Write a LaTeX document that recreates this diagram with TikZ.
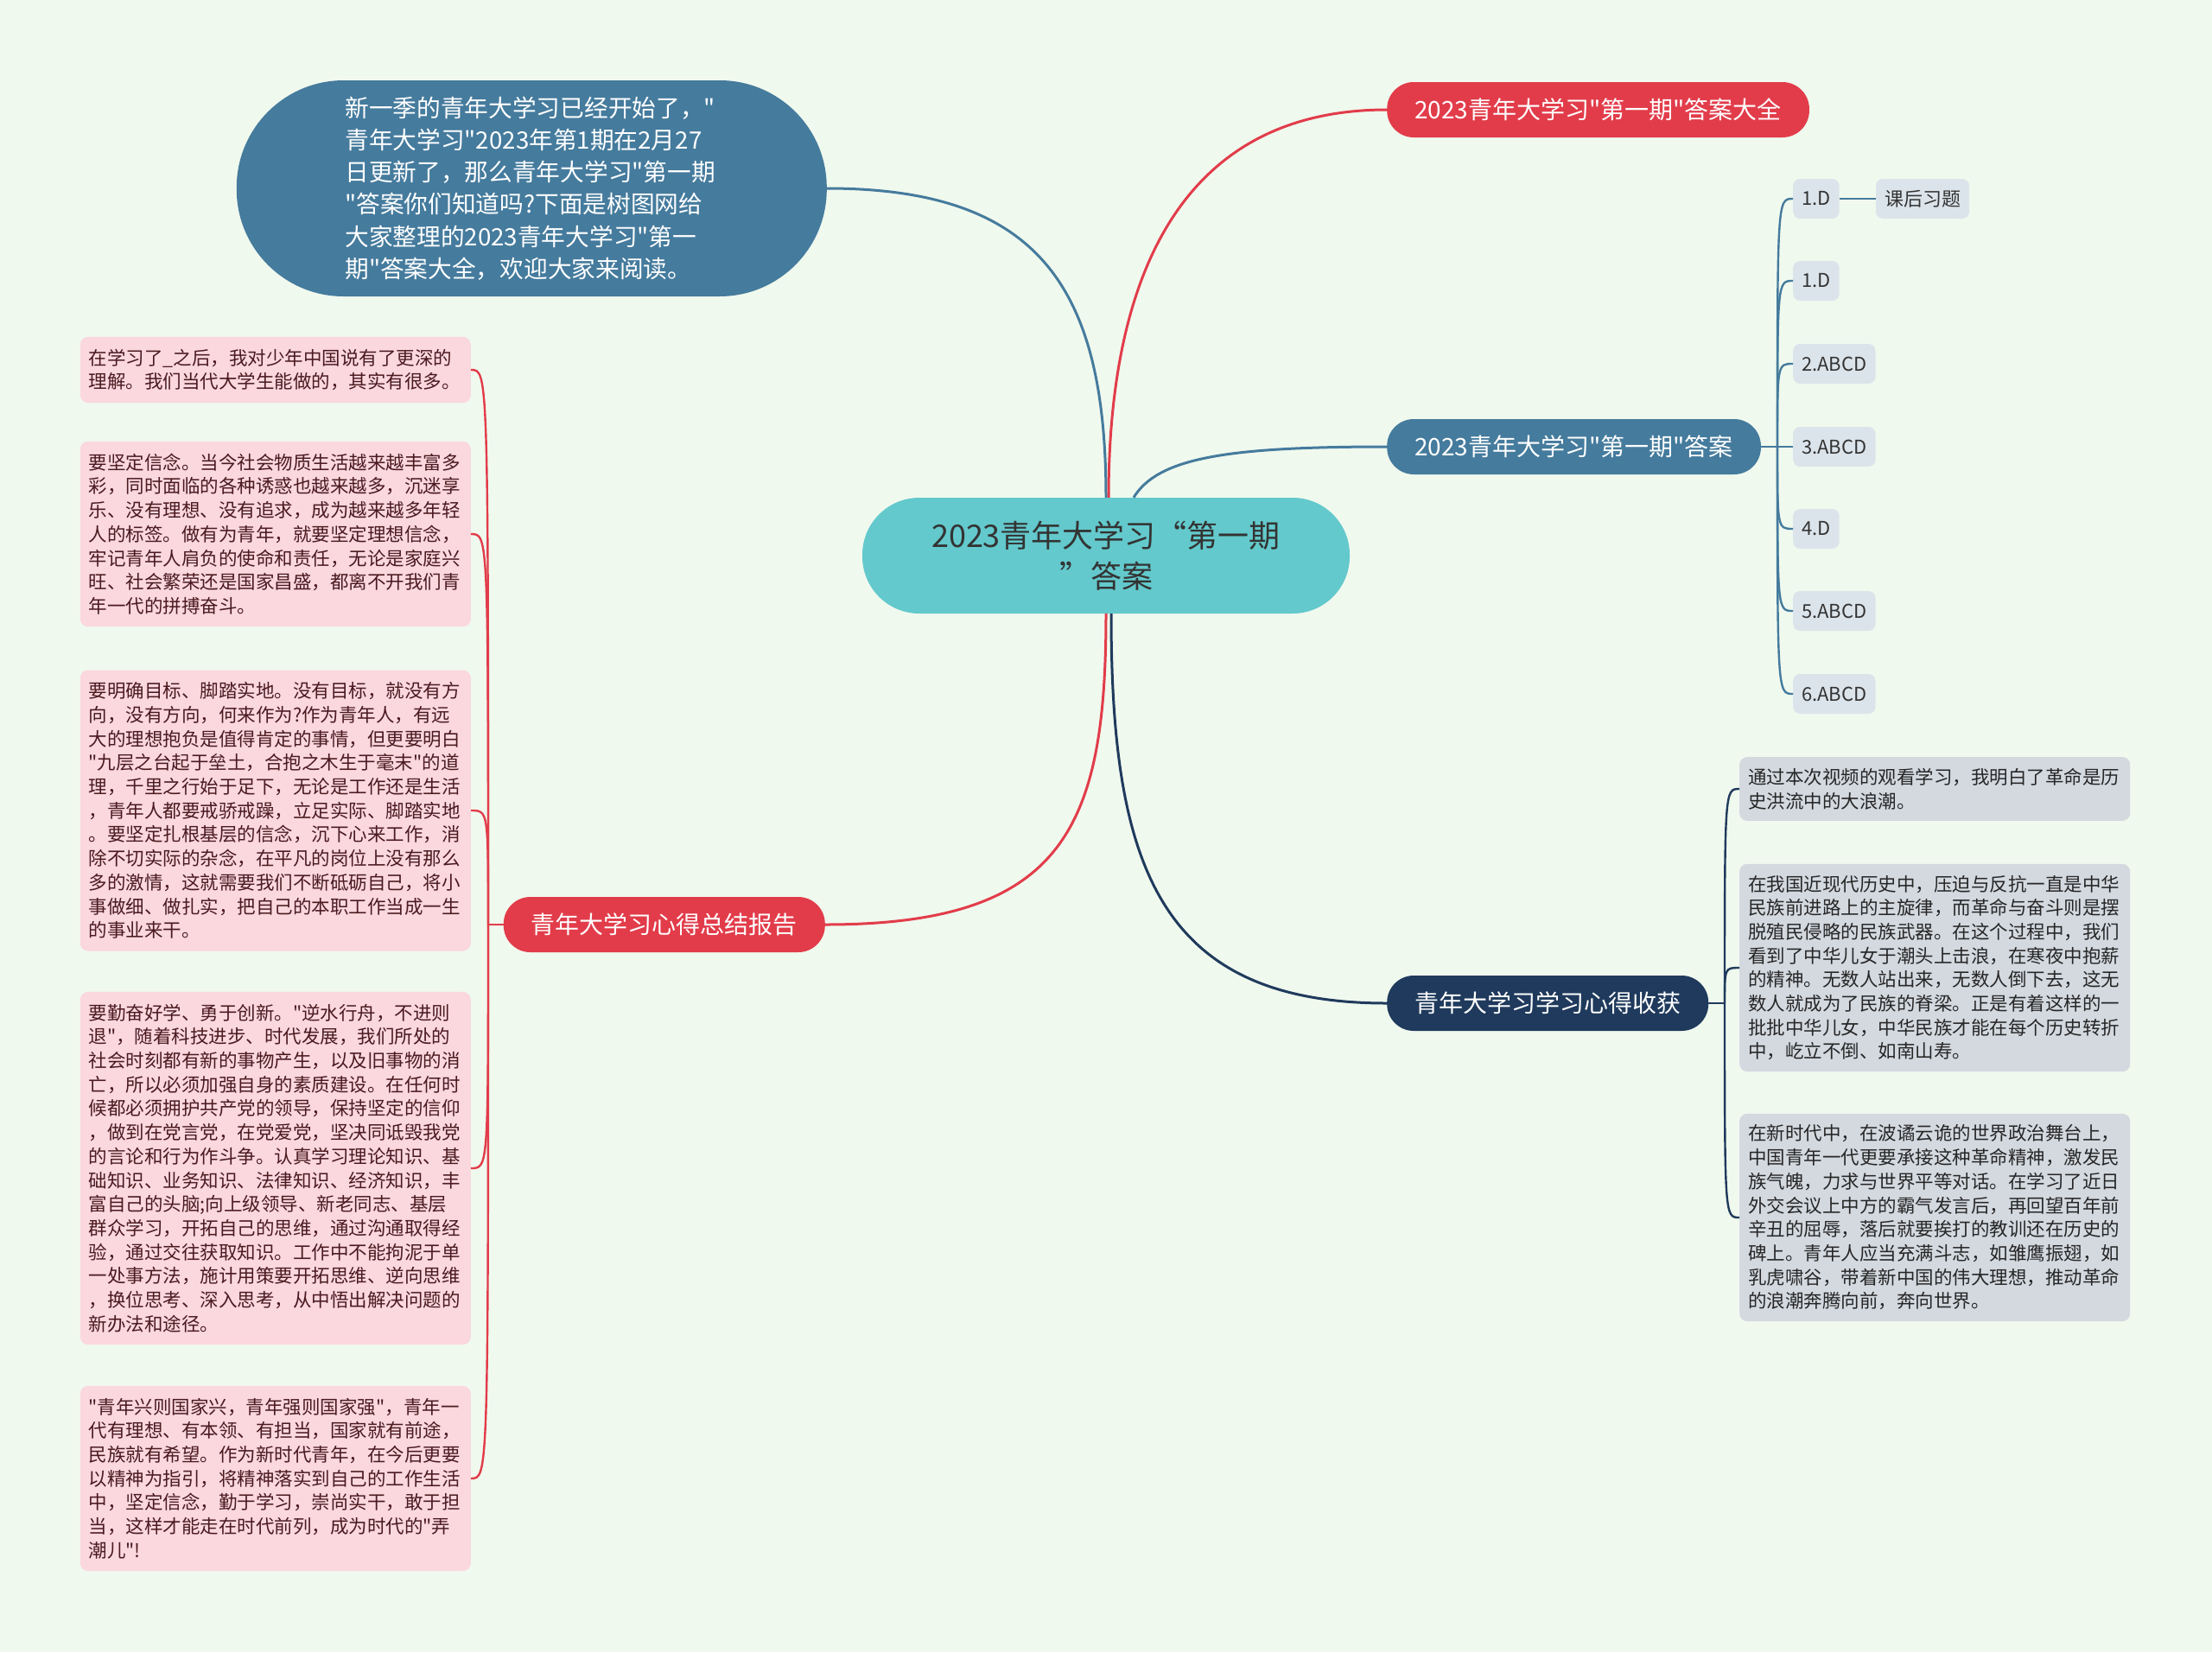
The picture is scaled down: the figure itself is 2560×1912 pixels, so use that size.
\documentclass[tikz,border=0pt]{standalone}
\usepackage{fontspec}
\newfontfamily\mapfont{Noto Sans CJK SC}
\usetikzlibrary{positioning}

\definecolor{bgpaper}{HTML}{F0F9EE}
\definecolor{rootteal}{HTML}{63C9CC}
\definecolor{steelblue}{HTML}{457B9D}
\definecolor{mindred}{HTML}{E23C4A}
\definecolor{navyblue}{HTML}{1F3A5C}
\definecolor{ansfill}{HTML}{DCE4EB}
\definecolor{pinkfill}{HTML}{FAD8DD}
\definecolor{pinktext}{HTML}{4A1A20}
\definecolor{greyfill}{HTML}{D4D9E0}

\newcommand{\setfs}[2]{\mapfont\fontsize{#1pt}{#2pt}\selectfont}

\begin{document}
\begin{tikzpicture}[x=1pt, y=-1pt,
  branch/.style={rounded corners=31pt, minimum height=64pt, inner xsep=32pt, text=white, font=\setfs{28}{34}},
  ansbox/.style={fill=ansfill, rounded corners=8pt, minimum height=46pt, inner xsep=10pt, text=black!80, font=\setfs{22}{26}},
  pinknote/.style={fill=pinkfill, rounded corners=9pt, text width=432pt, align=left, inner xsep=10pt, inner ysep=14pt, text=pinktext, font=\setfs{21.5}{27.7}, anchor=east},
  greynote/.style={fill=greyfill, rounded corners=9pt, text width=432pt, align=left, inner xsep=10pt, inner ysep=13pt, text=black!85, font=\setfs{21.5}{27.7}, anchor=west},
  link/.style={line width=3pt},
  twig/.style={line width=2.4pt}]

\fill[bgpaper] (0,0) rectangle (2560,1912);
\useasboundingbox (0,0) rectangle (2560,1912);

% root
\node[fill=rootteal, rounded corners=66pt, minimum width=564pt, minimum height=134pt, align=center, text=black!80, font=\setfs{36}{47}] (ctr) at (1280,643) {2023青年大学习“第一期\\”答案};

% main branches
\node[fill=steelblue, rounded corners=124pt, minimum width=683pt, minimum height=250pt, text width=432pt, align=left, text=white, font=\setfs{27.7}{37.2}, anchor=east] (intro) at (957,218)
  {新一季的青年大学习已经开始了，"\\青年大学习"2023年第1期在2月27\\日更新了，那么青年大学习"第一期\\"答案你们知道吗?下面是树图网给\\大家整理的2023青年大学习"第一\\期"答案大全，欢迎大家来阅读。};
\node[branch, fill=mindred, anchor=west] (full) at (1605,127) {2023青年大学习"第一期"答案大全};
\node[branch, fill=steelblue, anchor=west] (ans) at (1605,517) {2023青年大学习"第一期"答案};
\node[branch, fill=navyblue, anchor=west] (gain) at (1605,1161) {青年大学习学习心得收获};
\node[branch, fill=mindred, anchor=east] (sum) at (955,1070) {青年大学习心得总结报告};

\draw[link, steelblue] (ctr.north) .. controls +(0,-246) and +(243,0) .. (intro.east);
\draw[link, mindred] ([xshift=3pt]ctr.north) .. controls +(0,-276) and +(-225,0) .. (full.west);
\draw[link, steelblue] ([xshift=32pt]ctr.north) .. controls +(28,-46) and +(-185,0) .. (ans.west);
\draw[link, navyblue] ([xshift=6pt]ctr.south) .. controls +(0,290) and +(-265,0) .. (gain.west);
\draw[link, mindred] (ctr.south) .. controls +(0,250) and +(275,0) .. (sum.east);

% answers
\node[ansbox, anchor=west] (a1) at (2075,230) {1.D};
\node[ansbox, right=42pt of a1] (hw) {课后习题};
\node[ansbox, anchor=west] (a2) at (2075,325) {1.D};
\node[ansbox, anchor=west] (a3) at (2075,421) {2.ABCD};
\node[ansbox, anchor=west] (a4) at (2075,517) {3.ABCD};
\node[ansbox, anchor=west] (a5) at (2075,612) {4.D};
\node[ansbox, anchor=west] (a6) at (2075,707) {5.ABCD};
\node[ansbox, anchor=west] (a7) at (2075,803) {6.ABCD};

\path (a4.west) ++(-18,0) coordinate (aj);
\draw[twig, steelblue] (ans.east) -- (aj);
\foreach \n in {a1,a2,a3,a4,a5,a6,a7}
  \draw[twig, steelblue] (aj) .. controls (aj |- \n.west) .. (\n.west);
\draw[twig, steelblue] (a1) -- (hw);

% summary notes
\node[pinknote] (p1) at (545,428) {在学习了\_之后，我对少年中国说有了更深的\\理解。我们当代大学生能做的，其实有很多。};
\node[pinknote] (p2) at (545,618) {要坚定信念。当今社会物质生活越来越丰富多\\彩，同时面临的各种诱惑也越来越多，沉迷享\\乐、没有理想、没有追求，成为越来越多年轻\\人的标签。做有为青年，就要坚定理想信念，\\牢记青年人肩负的使命和责任，无论是家庭兴\\旺、社会繁荣还是国家昌盛，都离不开我们青\\年一代的拼搏奋斗。};
\node[pinknote] (p3) at (545,938) {要明确目标、脚踏实地。没有目标，就没有方\\向，没有方向，何来作为?作为青年人，有远\\大的理想抱负是值得肯定的事情，但更要明白\\"九层之台起于垒土，合抱之木生于毫末"的道\\理，千里之行始于足下，无论是工作还是生活\\，青年人都要戒骄戒躁，立足实际、脚踏实地\\。要坚定扎根基层的信念，沉下心来工作，消\\除不切实际的杂念，在平凡的岗位上没有那么\\多的激情，这就需要我们不断砥砺自己，将小\\事做细、做扎实，把自己的本职工作当成一生\\的事业来干。};
\node[pinknote] (p4) at (545,1352) {要勤奋好学、勇于创新。"逆水行舟，不进则\\退"，随着科技进步、时代发展，我们所处的\\社会时刻都有新的事物产生，以及旧事物的消\\亡，所以必须加强自身的素质建设。在任何时\\候都必须拥护共产党的领导，保持坚定的信仰\\，做到在党言党，在党爱党，坚决同诋毁我党\\的言论和行为作斗争。认真学习理论知识、基\\础知识、业务知识、法律知识、经济知识，丰\\富自己的头脑;向上级领导、新老同志、基层\\群众学习，开拓自己的思维，通过沟通取得经\\验，通过交往获取知识。工作中不能拘泥于单\\一处事方法，施计用策要开拓思维、逆向思维\\，换位思考、深入思考，从中悟出解决问题的\\新办法和途径。};
\node[pinknote] (p5) at (545,1711) {"青年兴则国家兴，青年强则国家强"，青年一\\代有理想、有本领、有担当，国家就有前途，\\民族就有希望。作为新时代青年，在今后更要\\以精神为指引，将精神落实到自己的工作生活\\中，坚定信念，勤于学习，崇尚实干，敢于担\\当，这样才能走在时代前列，成为时代的"弄\\潮儿"!};

\path (p1.east |- sum.west) ++(20,0) coordinate (sj);
\draw[twig, mindred] (sum.west) -- (sj);
\foreach \n in {p1,p2,p3,p4,p5}
  \draw[twig, mindred] (sj) .. controls (sj |- \n.east) .. (\n.east);

% gains notes
\node[greynote] (g1) at (2013,913) {通过本次视频的观看学习，我明白了革命是历\\史洪流中的大浪潮。};
\node[greynote] (g2) at (2013,1120) {在我国近现代历史中，压迫与反抗一直是中华\\民族前进路上的主旋律，而革命与奋斗则是摆\\脱殖民侵略的民族武器。在这个过程中，我们\\看到了中华儿女于潮头上击浪，在寒夜中抱薪\\的精神。无数人站出来，无数人倒下去，这无\\数人就成为了民族的脊梁。正是有着这样的一\\批批中华儿女，中华民族才能在每个历史转折\\中，屹立不倒、如南山寿。};
\node[greynote] (g3) at (2013,1409) {在新时代中，在波谲云诡的世界政治舞台上，\\中国青年一代更要承接这种革命精神，激发民\\族气魄，力求与世界平等对话。在学习了近日\\外交会议上中方的霸气发言后，再回望百年前\\辛丑的屈辱，落后就要挨打的教训还在历史的\\碑上。青年人应当充满斗志，如雏鹰振翅，如\\乳虎啸谷，带着新中国的伟大理想，推动革命\\的浪潮奔腾向前，奔向世界。};

\path (g1.west |- gain.east) ++(-17,0) coordinate (gj);
\draw[twig, navyblue] (gain.east) -- (gj);
\foreach \n in {g1,g2,g3}
  \draw[twig, navyblue] (gj) .. controls (gj |- \n.west) .. (\n.west);
\end{tikzpicture}
\end{document}
